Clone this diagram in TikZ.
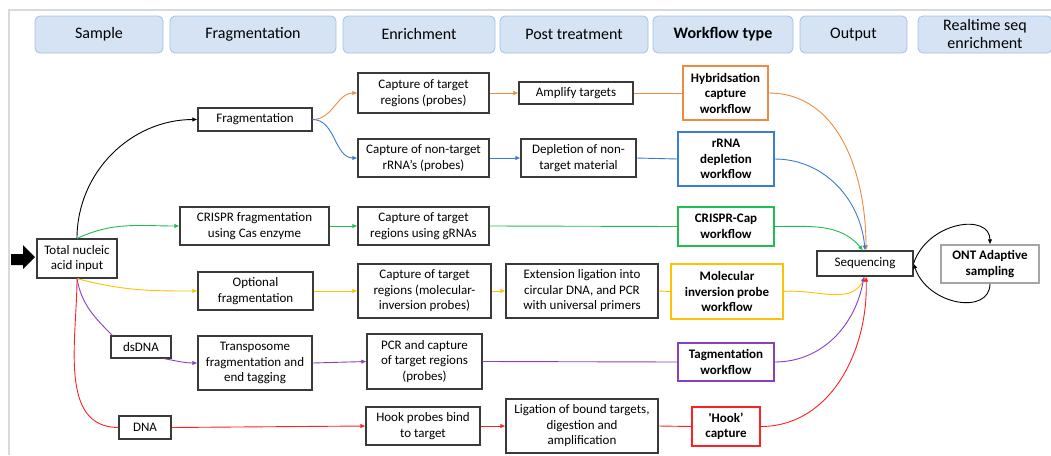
\documentclass[tikz,border=0pt]{standalone}
\usepackage{fontspec}
\setmainfont{Carlito}
\usetikzlibrary{arrows.meta}
\definecolor{hdrfill}{HTML}{D5E3F4}
\definecolor{hdrline}{HTML}{9DC3E6}
\definecolor{boxline}{HTML}{3A3A3A}
\definecolor{frameg}{HTML}{D9D9D9}
\definecolor{corange}{HTML}{F08A40}
\definecolor{cblue}{HTML}{3A7BD5}
\definecolor{cgreen}{HTML}{1EBE50}
\definecolor{cyellow}{HTML}{FFC000}
\definecolor{cpurple}{HTML}{8A3FC0}
\definecolor{cred}{HTML}{FF2020}
\definecolor{ontgray}{HTML}{A6A6A6}
\tikzset{
  hdr/.style={draw=hdrline, fill=hdrfill, rounded corners=5pt, line width=0.8pt, minimum height=37pt, inner sep=0pt, align=center, font=\fontsize{16}{18}\selectfont},
  bx/.style={draw=boxline, line width=1.1pt, inner sep=0pt, align=center, font=\fontsize{13}{15.5}\selectfont},
  wf/.style={bx, font=\fontsize{13}{15.5}\selectfont\bfseries},
  con/.style={line width=0.9pt},
  arr/.style={con, -{Latex[length=5pt,width=4.5pt]}},
}
\begin{document}
\begin{tikzpicture}[x=1pt,y=1pt]
\useasboundingbox (0,0) rectangle (1051,-455);
\fill[white] (0,0) rectangle (1051,-455);
\draw[frameg, line width=2pt] (9,-455) -- (9,-9.5) -- (1051,-9.5);

% headers
\node[hdr, minimum width=128pt] (h1) at (99,-34.5) {Sample};
\node[hdr, minimum width=166pt] (h2) at (253,-34.5) {Fragmentation};
\node[hdr, minimum width=152pt] (h3) at (419,-34.5) {Enrichment};
\node[hdr, minimum width=148pt] (h4) at (574,-34.5) {Post treatment};
\node[hdr, minimum width=140pt] (h5) at (723,-34.5) {\bfseries Workflow type};
\node[hdr, minimum width=107pt] (h6) at (853.5,-34.5) {Output};
\node[hdr, minimum width=134pt] (h7) at (985,-34.5) {Realtime seq\\enrichment};

% input arrow
\fill[black] (11,-254) -- (23,-254) -- (23,-245) -- (35,-257) -- (23,-269) -- (23,-265) -- (11,-265) -- cycle;

% boxes
\node[bx, minimum width=80pt, minimum height=39pt] (tot) at (77,-258.5) {Total nucleic\\acid input};
\node[bx, minimum width=114pt, minimum height=23pt] (frag) at (255,-119.5) {Fragmentation};
\node[bx, minimum width=149pt, minimum height=38pt] (crispr) at (254.5,-226) {CRISPR fragmentation\\using Cas enzyme};
\node[bx, minimum width=115pt, minimum height=38pt] (opt) at (255.5,-291) {Optional\\fragmentation};
\node[bx, minimum width=60pt, minimum height=22pt] (ds) at (141,-347) {dsDNA};
\node[bx, minimum width=114pt, minimum height=54pt] (trans) at (255,-363) {Transposome\\fragmentation and\\end tagging};
\node[bx, minimum width=52pt, minimum height=23pt] (dna) at (145,-427.5) {DNA};

\node[bx, minimum width=131pt, minimum height=40pt] (cap1) at (423.5,-93) {Capture of target\\regions (probes)};
\node[bx, minimum width=114pt, minimum height=22pt] (amp) at (576,-93) {Amplify targets};
\node[bx, minimum width=131pt, minimum height=38pt] (cap2) at (423.5,-158) {Capture of non-target\\rRNA’s (probes)};
\node[bx, minimum width=115pt, minimum height=38pt] (depl) at (578.5,-158) {Depletion of non-\\target material};
\node[bx, minimum width=131pt, minimum height=38pt] (grna) at (423.5,-226) {Capture of target\\regions using gRNAs};
\node[bx, minimum width=133pt, minimum height=54pt] (mipc) at (424.5,-291) {Capture of target\\regions (molecular-\\inversion probes)};
\node[bx, minimum width=152pt, minimum height=54pt] (ext) at (582,-291) {Extension ligation into\\circular DNA, and PCR\\with universal primers};
\node[bx, minimum width=115pt, minimum height=55pt] (pcr) at (424.5,-361.5) {PCR and capture\\of target regions\\(probes)};
\node[bx, minimum width=114pt, minimum height=38pt] (hookp) at (423,-426) {Hook probes bind\\to target};
\node[bx, minimum width=152pt, minimum height=54pt] (lig) at (582,-426) {Ligation of bound targets,\\digestion and\\amplification};

\node[wf, draw=corange, minimum width=85pt, minimum height=54pt] (hyb) at (725.5,-93) {Hybridsation\\capture\\workflow};
\node[wf, draw=cblue, minimum width=96pt, minimum height=54pt] (rrna) at (726,-159) {rRNA\\depletion\\workflow};
\node[wf, draw=cgreen, minimum width=96pt, minimum height=39pt] (ccap) at (726,-226.5) {CRISPR-Cap\\workflow};
\node[wf, draw=cyellow, minimum width=112pt, minimum height=55pt] (mipw) at (727,-291.5) {Molecular\\inversion probe\\workflow};
\node[wf, draw=cpurple, minimum width=96pt, minimum height=38pt] (tag) at (726,-362) {Tagmentation\\workflow};
\node[wf, draw=cred, minimum width=68pt, minimum height=39pt] (hookw) at (726,-426.5) {\textquotesingle Hook’\\capture};

\node[bx, minimum width=96pt, minimum height=25pt] (seq) at (865,-263.5) {Sequencing};
\node[wf, draw=ontgray, minimum width=98pt, minimum height=38pt] (ont) at (990,-264) {ONT Adaptive\\sampling};

% connectors from input
\draw[arr, black] (tot.north) to[out=90,in=180] (frag.west);
\draw[arr, cgreen] (tot.north) to[out=25,in=180] (crispr.west);
\draw[arr, cyellow] (tot.south) to[out=-15,in=180] (opt.west);
\draw[con, cpurple] (tot.south) to[out=-80,in=135] ([xshift=2pt]ds.north west);
\draw[con, cred] (tot.south) to[out=-90,in=180] (dna.west);

% orange
\draw[arr, corange] (frag.east) to[out=0,in=180] (cap1.west);
\draw[arr, corange] (cap1.east) -- (amp.west);
\draw[con, corange] (amp.east) -- (hyb.west);
\draw[arr, corange] (hyb.east) to[out=0,in=90] ([xshift=1pt]seq.north);
% blue
\draw[arr, cblue] (frag.east) to[out=0,in=180] (cap2.west);
\draw[arr, cblue] (cap2.east) -- (depl.west);
\draw[con, cblue] (depl.east) -- (rrna.west);
\draw[arr, cblue] (rrna.east) to[out=0,in=95] (seq.north);
% green
\draw[arr, cgreen] (crispr.east) -- (grna.west);
\draw[con, cgreen] (grna.east) -- (ccap.west);
\draw[arr, cgreen] (ccap.east) to[out=0,in=130] ([xshift=-2pt]seq.north);
% yellow
\draw[arr, cyellow] (opt.east) -- (mipc.west);
\draw[arr, cyellow] (mipc.east) -- (ext.west);
\draw[con, cyellow] (ext.east) -- (mipw.west);
\draw[arr, cyellow] (mipw.east) to[out=5,in=-115] (seq.south);
% purple
\draw[arr, cpurple] ([xshift=-8pt]ds.south east) to[out=-10,in=180] (trans.west);
\draw[arr, cpurple] (trans.east) -- (pcr.west);
\draw[con, cpurple] (pcr.east) -- (tag.west);
\draw[arr, cpurple] (tag.east) to[out=0,in=-100] ([xshift=-1pt]seq.south);
% red
\draw[arr, cred] (dna.east) -- (hookp.west);
\draw[arr, cred] (hookp.east) -- (lig.west);
\draw[con, cred] (lig.east) -- (hookw.west);
\draw[arr, cred] (hookw.east) to[out=0,in=-88] ([xshift=1pt]seq.south);

% adaptive sampling loop
\draw[arr, black] (seq.east) .. controls +(14,42) and +(0,32) .. (ont.north);
\draw[arr, black] (ont.south) .. controls +(0,-32) and +(14,-42) .. (seq.east);
\end{tikzpicture}
\end{document}
